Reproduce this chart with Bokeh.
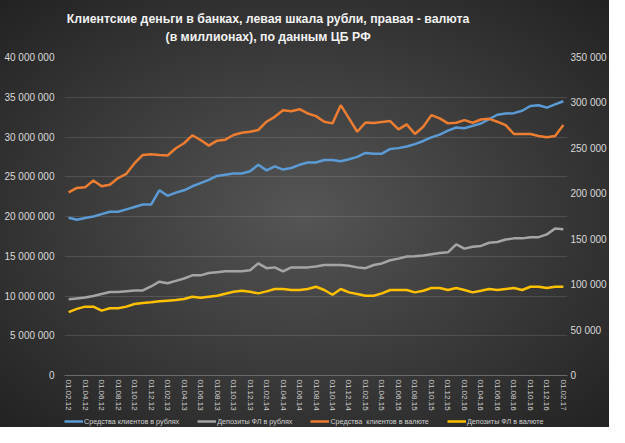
from bokeh.plotting import figure
from bokeh.models import Range1d, LinearAxis, FixedTicker, Legend, LegendItem
from bokeh.layouts import column
from bokeh.core.properties import value
from bokeh.embed import file_html
from bokeh.resources import INLINE

title_lines = ["Клиентские деньги в банках, левая шкала рубли, правая - валюта",
               "(в миллионах), по данным ЦБ РФ"]

tick_labels = ["01.02.12", "01.04.12", "01.06.12", "01.08.12", "01.10.12", "01.12.12",
               "01.02.13", "01.04.13", "01.06.13", "01.08.13", "01.10.13", "01.12.13",
               "01.02.14", "01.04.14", "01.06.14", "01.08.14", "01.10.14", "01.12.14",
               "01.02.15", "01.04.15", "01.06.15", "01.08.15", "01.10.15", "01.12.15",
               "01.02.16", "01.04.16", "01.06.16", "01.08.16", "01.10.16", "01.12.16",
               "01.02.17"]

series_names = ["Средства клиентов в рублях", "Депозиты ФЛ в рублях",
                "Средства  клиентов в валюте", "Депозиты ФЛ в валюте"]

# left axis (rubles), millions
rub_clients = [19.84, 19.6, 19.8, 20.0, 20.3, 20.6, 20.6, 20.9, 21.2, 21.5, 21.5, 23.3, 22.6, 23.0,
               23.3, 23.8, 24.2, 24.6, 25.1, 25.25, 25.4,
               25.4, 25.7, 26.5, 25.8, 26.3, 25.9, 26.1, 26.5, 26.8, 26.8, 27.1, 27.1, 26.96, 27.2,
               27.5, 28.0, 27.9, 27.9, 28.5,
               28.6, 28.8, 29.1, 29.5, 29.96, 30.3, 30.8, 31.2, 31.1, 31.4, 31.7, 32.25, 32.8,
               32.95, 33.0, 33.3, 33.9, 34.0, 33.7, 34.1, 34.5]
rub_deposits = [9.6, 9.7, 9.8, 10.0, 10.25, 10.5, 10.5, 10.6, 10.7, 10.7, 11.2, 11.8, 11.6, 11.9,
                12.2, 12.6, 12.6, 12.9, 13.0, 13.1, 13.1, 13.1, 13.25, 14.1, 13.5, 13.6, 13.1,
                13.6, 13.6, 13.6,
                13.7, 13.9, 13.9, 13.9, 13.8, 13.6, 13.5, 13.9, 14.1, 14.5, 14.7, 14.96, 15.0,
                15.1, 15.25, 15.4, 15.5, 16.5, 15.96, 16.2, 16.3, 16.7, 16.8, 17.1, 17.25, 17.25,
                17.4, 17.4, 17.75, 18.5, 18.4]
# right axis (foreign currency)
fx_clients = [201600, 206400, 207100, 214700, 208200, 210000, 217300, 222000, 233700, 242800,
              243600, 242800, 242100, 250100, 255600, 264400, 259200, 253000, 258500, 259600,
              264700,
              267200, 268300, 270200, 279300, 284700, 292000, 290900, 293100, 288400, 285500,
              279300, 277500, 297500, 283000, 268300, 278500, 277800, 278900, 280000,
              270900, 276400, 265800, 273800, 286600, 283000, 277500, 278200, 281100, 278200,
              281800, 282500, 279300, 275600, 265800, 265800, 265800, 263600, 262200, 263600,
              275600]
fx_deposits = [69700, 73300, 75800, 75800, 71400, 74000, 74000, 75800, 78750, 79800, 80600, 81700,
               82400, 83100, 84200, 86700, 85600, 86700, 87800, 90000, 92200, 93300, 92200, 90400,
               92600, 95200, 95200, 94100, 94100, 95200,
               97700, 94100, 88900, 95200, 91500, 89700, 87800, 87800, 90400, 94100, 94100, 94100,
               91500, 93300, 96300, 96300, 94100, 96300, 94100, 91500, 93300, 95200, 94100, 95200,
               96300, 94100, 97700, 97700, 96300, 97700, 97700]

left_ticks = [0, 5, 10, 15, 20, 25, 30, 35, 40]
left_tick_labels = ["0", "5 000 000", "10 000 000", "15 000 000", "20 000 000", "25 000 000",
                    "30 000 000", "35 000 000", "40 000 000"]
right_ticks = [0, 50000, 100000, 150000, 200000, 250000, 300000, 350000]
right_tick_labels = ["0", "50 000", "100 000", "150 000", "200 000", "250 000", "300 000", "350 000"]

colors = ["#5B9BD5", "#A5A5A5", "#ED7D31", "#FFC000"]

W = 609
BL, BR = 64, 41          # left / right borders; the column aligns all frames to these
n = len(rub_clients)
x = list(range(n))
rub_c = [v * 1e6 for v in rub_clients]
rub_d = [v * 1e6 for v in rub_deposits]


def bare(fig):
    fig.background_fill_color = None
    fig.border_fill_color = None
    fig.outline_line_color = None
    fig.xgrid.grid_line_color = None
    fig.ygrid.grid_line_color = None


# ---- title strip (x range in page pixels over the aligned frame) ----
TH = 45
pt = figure(width=W, height=TH, output_backend="svg", toolbar_location=None,
            x_range=Range1d(BL, W - BR), y_range=Range1d(0, TH),
            min_border_left=BL, min_border_right=BR, min_border_top=0, min_border_bottom=0,
            x_axis_type=None, y_axis_type=None)
bare(pt)
pt.text(x=[268, 268], y=[TH - 18, TH - 36], text=title_lines,
        text_align="center", text_baseline="middle",
        text_font=value("Liberation Sans"), text_font_size="12.3px",
        text_font_style="bold", text_color="#f2f2f2")

# ---- main chart ----
p = figure(width=W, height=368, output_backend="svg", toolbar_location=None,
           x_range=Range1d(-0.5, n - 0.5), y_range=Range1d(0, left_ticks[-1] * 1e6),
           min_border_left=BL, min_border_right=BR, min_border_top=12, min_border_bottom=36)
p.extra_y_ranges = {"fx": Range1d(0, right_ticks[-1])}
bare(p)

r1 = p.line(x, rub_c, line_color=colors[0], line_width=2.5)
r2 = p.line(x, rub_d, line_color=colors[1], line_width=2.5)
r3 = p.line(x, fx_clients, line_color=colors[2], line_width=2.5, y_range_name="fx")
r4 = p.line(x, fx_deposits, line_color=colors[3], line_width=2.5, y_range_name="fx")

p.ygrid.grid_line_color = "white"
p.ygrid.grid_line_alpha = 0.12
p.ygrid.ticker = FixedTicker(ticks=[t * 1e6 for t in left_ticks])

xa = p.xaxis[0]
xa.ticker = FixedTicker(ticks=list(range(0, n, 2)))
xa.major_label_overrides = {i * 2: lab for i, lab in enumerate(tick_labels)}
xa.major_label_orientation = "vertical"
xa.major_label_text_font = "Liberation Sans"
xa.major_label_text_font_size = "8px"
xa.major_label_text_color = "#d0d0d0"
xa.axis_line_color = "#6a6a6a"
xa.major_tick_line_color = None
xa.minor_tick_line_color = None
xa.major_tick_out = 0
xa.major_tick_in = 0
xa.major_label_standoff = 4

ya = p.yaxis[0]
ya.ticker = FixedTicker(ticks=[t * 1e6 for t in left_ticks])
ya.major_label_overrides = {t * 1e6: lab for t, lab in zip(left_ticks, left_tick_labels)}
ya.axis_line_color = None
ya.major_tick_line_color = None
ya.minor_tick_line_color = None
ya.major_tick_out = 0
ya.major_tick_in = 0
ya.major_label_standoff = 10
ya.major_label_text_font = "Liberation Sans"
ya.major_label_text_font_size = "10px"
ya.major_label_text_color = "#d9d9d9"

ra = LinearAxis(y_range_name="fx")
ra.ticker = FixedTicker(ticks=right_ticks)
ra.major_label_overrides = {t: lab for t, lab in zip(right_ticks, right_tick_labels)}
ra.axis_line_color = None
ra.major_tick_line_color = None
ra.minor_tick_line_color = None
ra.major_tick_out = 0
ra.major_tick_in = 0
ra.major_label_standoff = 3
ra.major_label_text_font = "Liberation Sans"
ra.major_label_text_font_size = "10px"
ra.major_label_text_color = "#d9d9d9"
p.add_layout(ra, "right")

# ---- legend strip ----
LH = 14
pl = figure(width=W, height=LH, output_backend="svg", toolbar_location=None,
            x_range=Range1d(BL, W - BR), y_range=Range1d(0, LH),
            min_border_left=BL, min_border_right=BR, min_border_top=0, min_border_bottom=0,
            x_axis_type=None, y_axis_type=None)
bare(pl)
items = []
for name, c in zip(series_names, colors):
    # proxy renderer kept outside the visible range; only its legend swatch shows
    r = pl.line([0, 10], [-20, -20], line_color=c, line_width=2.5)
    items.append(LegendItem(label=name, renderers=[r]))
legend = Legend(items=items, orientation="horizontal", location=(0, 1))
legend.background_fill_alpha = 0
legend.border_line_color = None
legend.label_text_font = "Liberation Sans"
legend.label_text_font_size = "7.2px"
legend.label_text_color = "#d0d0d0"
legend.glyph_width = 19
legend.glyph_height = 10
legend.label_height = 10
legend.label_standoff = 1
legend.spacing = 18
legend.padding = 0
legend.margin = 0
pl.add_layout(legend, "center")

page = column(pt, p, pl, spacing=0)
page.styles = {"background": "radial-gradient(ellipse at 50% 50%, #555555 0%, #3e3e3e 45%, #222222 100%)"}

open("out.html", "w").write(file_html(page, INLINE))
